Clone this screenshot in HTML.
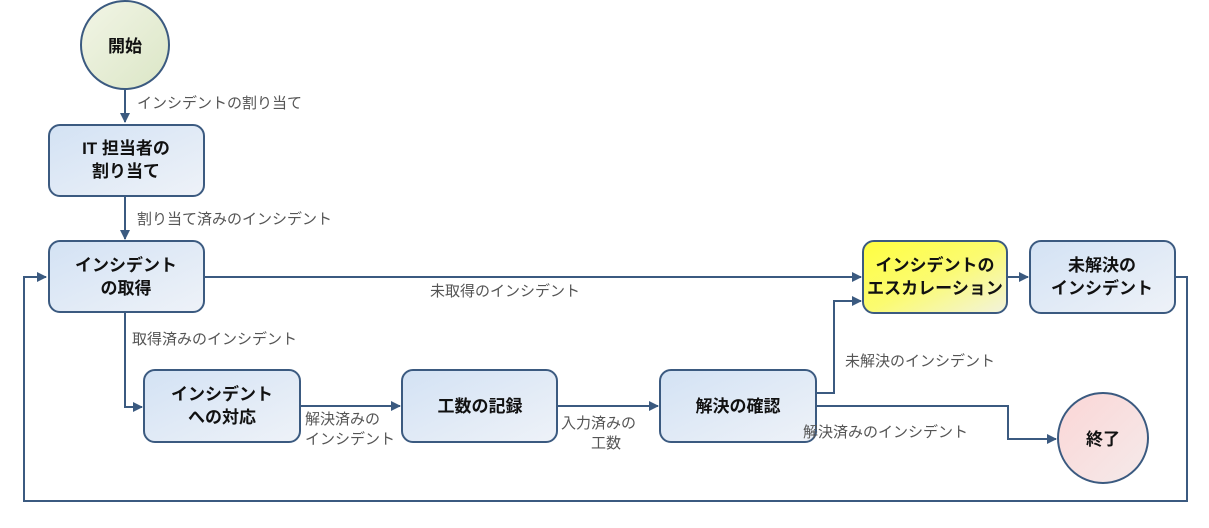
<!DOCTYPE html>
<html><head><meta charset="utf-8"><style>
html,body{margin:0;padding:0;background:#fff}
svg{display:block}
.n{font-family:"Liberation Sans","Noto Sans CJK JP",sans-serif;font-size:17px;font-weight:bold;fill:#111;text-anchor:middle}
.l{font-family:"Liberation Sans","Noto Sans CJK JP",sans-serif;font-size:15px;fill:#555}
.c{fill:none;stroke:#3b5a80;stroke-width:2}
</style></head><body>
<svg width="1209" height="528" viewBox="0 0 1209 528" xmlns="http://www.w3.org/2000/svg">
<defs>
<linearGradient id="b" x1="0" y1="0" x2="1" y2="1"><stop offset="0" stop-color="#d3e2f4"/><stop offset="1" stop-color="#eef2f8"/></linearGradient>
<linearGradient id="y" x1="0" y1="0" x2="1" y2="1"><stop offset="0" stop-color="#ffff40"/><stop offset="0.5" stop-color="#fbfb70"/><stop offset="1" stop-color="#f2f3de"/></linearGradient>
<linearGradient id="g" x1="0" y1="0" x2="1" y2="1"><stop offset="0" stop-color="#f2f5e6"/><stop offset="1" stop-color="#dbe6c6"/></linearGradient>
<linearGradient id="r" x1="0" y1="0" x2="1" y2="1"><stop offset="0" stop-color="#fbd6d6"/><stop offset="1" stop-color="#f5eaea"/></linearGradient>
<marker id="a" markerWidth="10" markerHeight="10" refX="9" refY="5" orient="auto" markerUnits="userSpaceOnUse"><path d="M0,0 L10,5 L0,10z" fill="#3b5a80"/></marker>
</defs>
<!-- connectors -->
<path class="c" d="M125,90 V122" marker-end="url(#a)"/>
<path class="c" d="M125,196 V239" marker-end="url(#a)"/>
<path class="c" d="M204,277 H861" marker-end="url(#a)"/>
<path class="c" d="M125,313 V407 H142" marker-end="url(#a)"/>
<path class="c" d="M300,406 H400" marker-end="url(#a)"/>
<path class="c" d="M557,406 H658" marker-end="url(#a)"/>
<path class="c" d="M816,393 H834 V301 H861" marker-end="url(#a)"/>
<path class="c" d="M816,406 H1008 V439 H1056" marker-end="url(#a)"/>
<path class="c" d="M1007,277 H1028" marker-end="url(#a)"/>
<path class="c" d="M1175,277 H1187 V501 H24 V277 H46" marker-end="url(#a)"/>
<!-- nodes -->
<circle cx="125" cy="45" r="44" fill="url(#g)" stroke="#3b5a80" stroke-width="2"/>
<text class="n" x="125" y="52">開始</text>
<rect x="49" y="125" width="155" height="71" rx="11" fill="url(#b)" stroke="#3b5a80" stroke-width="2"/>
<text class="n" x="126" y="154">IT 担当者の</text><text class="n" x="126" y="177">割り当て</text>
<rect x="49" y="241" width="155" height="71" rx="11" fill="url(#b)" stroke="#3b5a80" stroke-width="2"/>
<text class="n" x="126" y="271">インシデント</text><text class="n" x="126" y="294">の取得</text>
<rect x="144" y="370" width="156" height="72" rx="11" fill="url(#b)" stroke="#3b5a80" stroke-width="2"/>
<text class="n" x="222" y="400">インシデント</text><text class="n" x="222" y="423">への対応</text>
<rect x="402" y="370" width="155" height="72" rx="11" fill="url(#b)" stroke="#3b5a80" stroke-width="2"/>
<text class="n" x="480" y="412">工数の記録</text>
<rect x="660" y="370" width="156" height="72" rx="11" fill="url(#b)" stroke="#3b5a80" stroke-width="2"/>
<text class="n" x="738" y="412">解決の確認</text>
<rect x="863" y="241" width="144" height="72" rx="11" fill="url(#y)" stroke="#3b5a80" stroke-width="2"/>
<text class="n" x="935" y="271">インシデントの</text><text class="n" x="935" y="294">エスカレーション</text>
<rect x="1030" y="241" width="145" height="72" rx="11" fill="url(#b)" stroke="#3b5a80" stroke-width="2"/>
<text class="n" x="1102" y="271">未解決の</text><text class="n" x="1102" y="294">インシデント</text>
<circle cx="1103" cy="438" r="45" fill="url(#r)" stroke="#3b5a80" stroke-width="2"/>
<text class="n" x="1103" y="445">終了</text>
<!-- labels -->
<text class="l" x="137" y="108">インシデントの割り当て</text>
<text class="l" x="137" y="224">割り当て済みのインシデント</text>
<text class="l" x="430" y="296">未取得のインシデント</text>
<text class="l" x="132" y="344">取得済みのインシデント</text>
<text class="l" x="305" y="424">解決済みの</text><text class="l" x="305" y="444">インシデント</text>
<text class="l" x="561" y="428">入力済みの</text><text class="l" x="591" y="448">工数</text>
<text class="l" x="845" y="366">未解決のインシデント</text>
<text class="l" x="803" y="437">解決済みのインシデント</text>
</svg>
</body></html>
